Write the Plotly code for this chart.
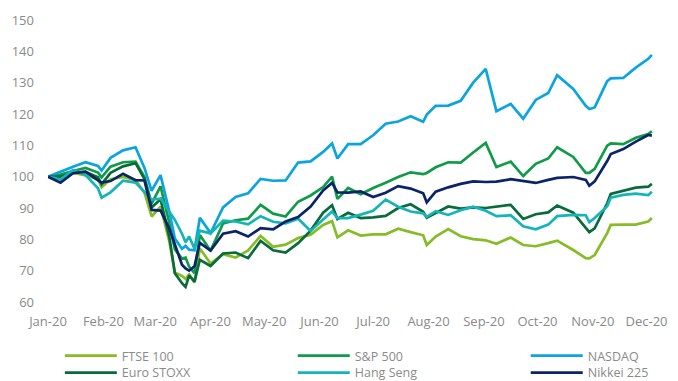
import plotly.graph_objects as go

dates = ["2020-01-01", "2020-01-08", "2020-01-15", "2020-01-22", "2020-01-29", "2020-01-31",
         "2020-02-05", "2020-02-12", "2020-02-19", "2020-02-24", "2020-02-28",
         "2020-03-04", "2020-03-09", "2020-03-12", "2020-03-16", "2020-03-18", "2020-03-20",
         "2020-03-23", "2020-03-26", "2020-04-01", "2020-04-08", "2020-04-15", "2020-04-22",
         "2020-04-29", "2020-05-06", "2020-05-13", "2020-05-20", "2020-05-27", "2020-06-03",
         "2020-06-08", "2020-06-11", "2020-06-17", "2020-06-24", "2020-07-01", "2020-07-08",
         "2020-07-15", "2020-07-22", "2020-07-29", "2020-07-31", "2020-08-05", "2020-08-12",
         "2020-08-19", "2020-08-26", "2020-09-02", "2020-09-08", "2020-09-16", "2020-09-23",
         "2020-09-30", "2020-10-07", "2020-10-12", "2020-10-21", "2020-10-28", "2020-10-30",
         "2020-11-02", "2020-11-09", "2020-11-11", "2020-11-18", "2020-11-25", "2020-12-02",
         "2020-12-04"]

ftse100 = [100, 100.4, 101.3, 100.4, 99.2, 96.6, 99.2, 99.9, 98.9, 94.9,
           87.3, 90.4, 79.1, 69.4, 68.3, 67.4, 68.8, 66.2, 77.1, 72.3,
           75.3, 74.2, 76.5, 81.1, 77.6, 78.3, 80.4, 81.5, 84.6, 85.8,
           80.6, 82.9, 81.2, 81.6, 81.6, 83.4, 82.3, 81.3, 78.2, 80.9,
           83.3, 81.0, 80.1, 79.7, 78.6, 80.6, 78.2, 77.8, 78.8, 79.6,
           76.6, 74.0, 73.9, 75.0, 82.0, 84.6, 84.7, 84.7, 85.7, 86.8]

sp500 = [100, 100.7, 101.8, 102.8, 101.3, 99.8, 103.2, 104.6, 104.8, 99.9,
         91.4, 96.9, 85.0, 76.8, 73.9, 74.2, 71.3, 69.2, 81.4, 76.4,
         85.1, 86.1, 86.6, 91.0, 88.2, 87.3, 92.0, 94.0, 96.7, 100.0,
         92.9, 96.4, 94.4, 96.4, 98.1, 99.9, 101.4, 100.8, 101.2, 103.0,
         104.6, 104.5, 107.7, 110.8, 103.1, 104.8, 100.2, 104.1, 105.8, 109.4,
         106.3, 101.2, 101.2, 102.5, 109.9, 110.6, 110.4, 112.4, 113.6, 114.5]

nasdaq = [100, 101.7, 103.2, 104.6, 103.4, 102.0, 106.0, 108.4, 109.4, 102.8,
          95.5, 100.5, 88.6, 80.3, 77.0, 77.9, 76.7, 76.5, 86.9, 82.0,
          90.2, 93.5, 94.7, 99.3, 98.7, 98.8, 104.5, 104.9, 107.9, 110.6,
          105.8, 110.4, 110.4, 113.2, 116.9, 117.6, 119.3, 117.5, 119.8, 122.6,
          122.7, 124.2, 130.0, 134.4, 120.9, 123.2, 118.5, 124.5, 126.7, 132.4,
          128.0, 122.6, 121.6, 122.1, 130.5, 131.4, 131.5, 134.8, 137.6, 138.9]

euro_stoxx = [100, 100.0, 101.2, 101.5, 99.8, 97.6, 101.2, 103.3, 104.3, 99.2,
              90.2, 92.8, 80.5, 69.2, 66.0, 64.8, 68.5, 66.5, 73.5, 71.5,
              75.5, 75.8, 74.0, 79.5, 76.5, 75.8, 78.8, 82.8, 88.5, 90.9,
              86.5, 88.5, 86.8, 87.0, 87.5, 90.0, 91.2, 88.8, 86.9, 88.5,
              90.5, 89.8, 90.2, 90.0, 90.5, 91.0, 86.5, 88.0, 88.6, 90.8,
              88.5, 83.5, 82.3, 83.5, 91.5, 94.5, 95.5, 96.5, 96.8, 97.7]

hang_seng = [100, 99.1, 102.1, 100.5, 96.3, 93.3, 95.0, 98.7, 98.1, 95.1,
             92.7, 93.0, 88.8, 86.2, 81.8, 79.1, 80.9, 77.0, 82.8, 81.9,
             86.0, 85.7, 84.8, 87.4, 85.6, 85.1, 86.6, 82.7, 86.3, 88.9,
             86.8, 86.8, 87.9, 89.1, 92.7, 90.4, 88.9, 88.3, 87.2, 89.0,
             87.8, 89.3, 90.4, 89.1, 87.4, 87.7, 84.2, 83.2, 84.7, 87.4,
             87.8, 87.7, 85.5, 86.8, 90.6, 93.3, 94.2, 94.6, 94.1, 95.2]

nikkei225 = [100, 98.1, 101.1, 101.6, 98.8, 98.1, 98.6, 100.9, 98.9, 98.8,
             89.4, 89.2, 83.3, 78.5, 71.9, 70.7, 70.0, 71.4, 78.9, 76.4,
             81.8, 82.6, 80.9, 83.6, 83.2, 85.7, 87.1, 90.5, 95.6, 98.0,
             95.0, 94.9, 95.3, 93.5, 94.9, 97.0, 96.2, 94.7, 91.8, 95.2,
             96.6, 97.7, 98.5, 98.3, 98.4, 99.2, 98.7, 98.0, 99.0, 99.6,
             99.9, 99.0, 97.1, 98.5, 105.0, 107.2, 108.8, 111.2, 113.3, 113.1]

series_names = ["FTSE 100", "S&P 500", "NASDAQ", "Euro STOXX", "Hang Seng", "Nikkei 225"]
series_values = [ftse100, sp500, nasdaq, euro_stoxx, hang_seng, nikkei225]
series_colors = ["#86BC25", "#0F9B48", "#0AA5E0", "#0A6B3A", "#14B4B8", "#0B2469"]

month_ticks = ["2020-%02d-01" % m for m in range(1, 13)]
month_labels = ["Jan-20", "Feb-20", "Mar-20", "Apr-20", "May-20", "Jun-20",
                "Jul-20", "Aug-20", "Sep-20", "Oct-20", "Nov-20", "Dec-20"]

# legend grid: 3 columns x 2 rows (one legend per entry)
legend_ids = ["legend", "legend2", "legend3", "legend4", "legend5", "legend6"]
legend_x = [0.0194, 0.4006, 0.7819, 0.0194, 0.4006, 0.7819]
legend_y = [0.1049, 0.1049, 0.1049, 0.0604, 0.0604, 0.0604]

fig = go.Figure()
for name, vals, col, lg in zip(series_names, series_values, series_colors, legend_ids):
    fig.add_trace(go.Scatter(x=dates, y=vals, mode="lines", name=name, legend=lg,
                             line=dict(color=col, width=2.7)))

font = dict(family="Open Sans, Lato, sans-serif", size=13, color="#8a8a8a")
legend_font = dict(family="Open Sans, Lato, sans-serif", size=12.5, color="#8a8a8a")
legends = {}
for lg, lx, ly in zip(legend_ids, legend_x, legend_y):
    legends[lg] = dict(orientation="h", xanchor="left", yanchor="top", yref="container",
                       x=lx, y=ly, itemwidth=52, font=legend_font, bgcolor="rgba(0,0,0,0)")

fig.update_layout(
    width=678, height=381,
    margin=dict(l=48, r=11, t=16, b=77),
    paper_bgcolor="white", plot_bgcolor="white",
    font=font,
    showlegend=True,
    xaxis=dict(type="date", range=["2020-01-01", "2020-12-08"],
               tickvals=month_ticks, ticktext=month_labels,
               showgrid=False, zeroline=False, showline=False, ticks="",
               ticklabelstandoff=10, tickfont=font),
    yaxis=dict(range=[60, 150], dtick=10, tick0=60,
               showgrid=False, zeroline=False, showline=False, ticks="",
               ticklabelstandoff=13, tickfont=font),
    **legends,
)

fig.write_html("out.html")
